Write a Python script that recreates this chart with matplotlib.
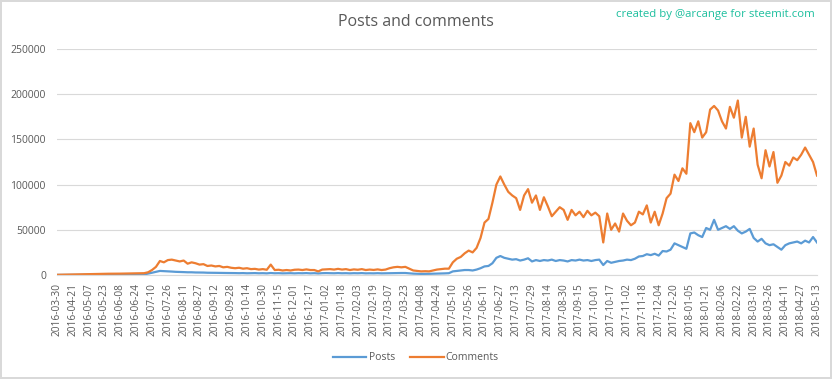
import matplotlib.pyplot as plt
import numpy as np

# tick labels on the category axis (one every 16 days)
tick_labels = [
    "2016-03-30", "2016-04-21", "2016-05-07", "2016-05-23", "2016-06-08", "2016-06-24",
    "2016-07-10", "2016-07-26", "2016-08-11", "2016-08-27", "2016-09-12", "2016-09-28",
    "2016-10-14", "2016-10-30", "2016-11-15", "2016-12-01", "2016-12-17", "2017-01-02",
    "2017-01-18", "2017-02-03", "2017-02-19", "2017-03-07", "2017-03-23", "2017-04-08",
    "2017-04-24", "2017-05-10", "2017-05-26", "2017-06-11", "2017-06-27", "2017-07-13",
    "2017-07-29", "2017-08-14", "2017-08-30", "2017-09-15", "2017-10-01", "2017-10-17",
    "2017-11-02", "2017-11-18", "2017-12-04", "2017-12-20", "2018-01-05", "2018-01-21",
    "2018-02-06", "2018-02-22", "2018-03-10", "2018-03-26", "2018-04-11", "2018-04-27",
    "2018-05-13",
]

# values, one every 4 days (in thousands)
comments_k = [
    0.2, 0.3, 0.4, 0.5, 0.5, 0.6, 0.7, 0.8, 0.9, 1.0,
    1.2, 1.2, 1.3, 1.4, 1.4, 1.5, 1.5, 1.6, 1.6, 1.7,
    1.8, 1.9, 2.0, 3.0, 5.5, 9.0, 15.5, 14.0, 16.5, 17.0,
    16.0, 15.0, 16.0, 12.5, 14.0, 13.0, 11.5, 12.0, 10.0, 10.5,
    9.5, 10.0, 8.5, 9.0, 8.0, 7.5, 8.0, 7.0, 7.5, 6.5,
    6.8, 6.0, 6.5, 5.8, 11.5, 5.5, 5.8, 5.0, 5.5, 5.0,
    5.8, 6.0, 5.5, 6.2, 5.5, 5.5, 4.0, 6.0, 6.2, 6.5,
    6.0, 6.8, 6.0, 6.5, 5.5, 6.2, 5.8, 6.5, 5.5, 6.0,
    5.6, 6.2, 5.5, 6.0, 7.5, 8.5, 9.0, 8.5, 9.0, 7.0,
    5.0, 4.5, 4.0, 4.2, 4.0, 5.0, 6.0, 6.5, 7.0, 7.0,
    14.0, 18.0, 20.0, 24.0, 27.0, 25.0, 30.0, 41.0, 58.0, 62.0,
    80.0, 100.0, 109.0, 100.0, 92.0, 88.0, 85.0, 72.0, 88.0, 95.0,
    80.0, 88.0, 72.0, 86.0, 76.0, 65.0, 70.0, 75.0, 72.0, 61.0,
    72.0, 66.0, 70.0, 64.0, 71.0, 66.0, 69.0, 65.0, 36.0, 68.0,
    50.0, 57.0, 48.0, 68.0, 60.0, 55.0, 58.0, 70.0, 67.0, 77.0,
    58.0, 70.0, 55.0, 68.0, 85.0, 90.0, 111.0, 104.0, 118.0, 112.0,
    168.0, 158.0, 170.0, 152.0, 158.0, 183.0, 187.0, 182.0, 170.0, 162.0,
    186.0, 174.0, 193.0, 152.0, 175.0, 142.0, 162.0, 122.0, 107.0, 138.0,
    120.0, 136.0, 102.0, 110.0, 125.0, 121.0, 130.0, 127.0, 133.0, 141.0,
    133.0, 125.0, 110.0,
]

posts_k = [
    0.1, 0.1, 0.1, 0.2, 0.2, 0.2, 0.2, 0.3, 0.3, 0.3,
    0.3, 0.3, 0.4, 0.4, 0.4, 0.4, 0.4, 0.5, 0.5, 0.5,
    0.5, 0.6, 0.6, 1.5, 2.5, 3.5, 4.5, 4.3, 4.0, 3.8,
    3.5, 3.4, 3.2, 3.0, 3.0, 2.8, 2.8, 2.7, 2.5, 2.5,
    2.4, 2.3, 2.3, 2.2, 2.2, 2.1, 2.0, 2.1, 1.9, 2.0,
    2.1, 1.9, 2.0, 1.8, 2.2, 1.9, 2.0, 1.8, 1.9, 2.0,
    1.8, 2.0, 1.9, 2.1, 1.8, 2.0, 1.7, 2.0, 2.1, 2.0,
    1.9, 2.1, 1.9, 2.0, 1.8, 2.0, 1.9, 2.1, 1.8, 1.9,
    1.8, 2.0, 1.8, 1.9, 2.0, 2.2, 2.3, 2.2, 2.2, 1.8,
    1.5, 1.3, 1.2, 1.2, 1.3, 1.4, 1.5, 1.6, 1.8, 2.0,
    4.0, 4.5, 5.0, 5.5, 5.5, 5.0, 6.0, 7.5, 9.5, 10.0,
    13.0, 19.0, 21.0, 19.0, 18.0, 17.0, 17.5, 16.0, 17.0, 18.5,
    15.0, 16.5, 15.5, 16.5, 16.0, 17.0, 15.5, 16.5, 16.0, 15.0,
    16.5, 16.0, 17.0, 16.0, 16.5, 15.5, 16.5, 17.0, 11.0, 15.5,
    13.5, 14.5, 15.5, 16.0, 17.0, 16.5, 18.0, 20.5, 21.0, 23.0,
    22.0, 23.5, 21.5, 26.5, 26.0, 28.0, 35.0, 33.0, 31.0, 29.0,
    46.0, 47.0, 44.0, 42.0, 52.0, 50.0, 61.0, 50.0, 52.0, 54.0,
    51.0, 54.0, 49.0, 46.0, 48.0, 51.0, 41.0, 37.0, 40.0, 35.0,
    33.0, 34.0, 31.0, 28.0, 33.0, 35.0, 36.0, 37.0, 35.0, 38.0,
    36.0, 42.0, 36.0,
]

comments = np.array(comments_k) * 1000
posts = np.array(posts_k) * 1000
x = np.arange(len(posts)) * 4          # category index of each sample
tick_pos = np.arange(len(tick_labels)) * 16

plt.rcParams['font.family'] = ['Open Sans', 'DejaVu Sans']
grey = '#595959'

fig = plt.figure(figsize=(8.32, 3.79), dpi=100, edgecolor='#D9D9D9', linewidth=1.5)
ax = fig.add_axes([57 / 832, 104 / 379, 760 / 832, 226 / 379])

ax.plot(x, posts, color='#5B9BD5', lw=1.6, label='Posts')
ax.plot(x, comments, color='#ED7D31', lw=1.6, label='Comments')

ax.set_xlim(0, tick_pos[-1])
ax.set_ylim(0, 250000)
ax.set_yticks(np.arange(0, 250001, 50000))
ax.set_yticklabels([str(v) for v in range(0, 250001, 50000)])
ax.set_xticks(tick_pos)
ax.set_xticklabels(tick_labels, rotation=90)
ax.tick_params(axis='y', length=0, pad=8, labelsize=7.5, labelcolor=grey)
ax.tick_params(axis='x', length=0, pad=6, labelsize=7.3, labelcolor=grey)

ax.grid(axis='y', color='#D9D9D9', lw=0.8)
ax.set_axisbelow(True)
for s in ['top', 'right', 'left']:
    ax.spines[s].set_visible(False)
ax.spines['bottom'].set_color('#D9D9D9')

fig.text(0.5, 1 - 22 / 379, 'Posts and comments', ha='center', va='center',
         fontsize=11.5, color=grey)
fig.text(815 / 832, 1 - 14 / 379, 'created by @arcange for steemit.com', ha='right',
         va='center', fontsize=8.2, color='#1DBF9E')

fig.legend(loc='center', bbox_to_anchor=(0.5, 1 - 358 / 379), ncol=2, frameon=False,
           fontsize=7.5, labelcolor=grey, handlelength=3.2, columnspacing=1.5,
           handletextpad=0.2)

fig.savefig('out.png', dpi=100)
